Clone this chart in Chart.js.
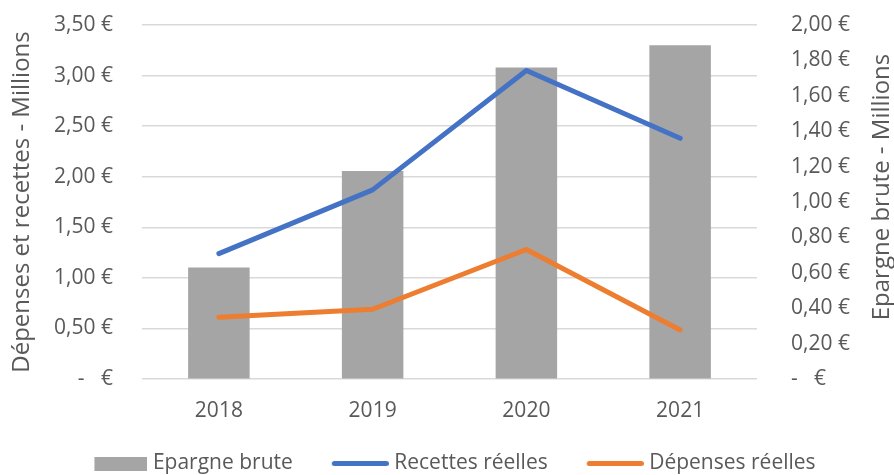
<!DOCTYPE html>
<html>
<head>
<meta charset="utf-8">
<script src="https://cdn.jsdelivr.net/npm/chart.js@4/dist/chart.umd.min.js"></script>
<style>
  html, body { margin: 0; padding: 0; background: #ffffff; }
  #wrap { width: 894px; height: 475px; position: relative; }
</style>
</head>
<body>
<div id="wrap"><canvas id="c" width="894" height="475"></canvas></div>
<script>
// ---- Data ----
const years = ['2018', '2019', '2020', '2021'];
const epargneBrute = [0.63, 1.175, 1.76, 1.885];      // right axis (millions €)
const recettesReelles = [1.24, 1.87, 3.05, 2.38];     // left axis (millions €)
const depensesReelles = [0.61, 0.69, 1.28, 0.485];    // left axis (millions €)
const seriesNames = ['Epargne brute', 'Recettes réelles', 'Dépenses réelles'];
const leftTitle = 'Dépenses et recettes - Millions';
const rightTitle = 'Epargne brute - Millions';

const GREY = '#A5A5A5', BLUE = '#4472C4', ORANGE = '#ED7D31';
const TEXT = '#595959', GRID = '#D9D9D9';
const NB = '\u00A0';
const FONT = '"Open Sans", "Noto Sans", sans-serif';

function euro(v) {
  if (Math.abs(v) < 1e-9) return '-' + NB + NB + NB + '€';
  return v.toFixed(2).replace('.', ',') + NB + '€';
}

// legend swatch: transparent on the left, coloured part at the right end
function makeSwatch(totalW, w, h, color, rounded) {
  const cv = document.createElement('canvas');
  cv.width = totalW; cv.height = h;
  const g = cv.getContext('2d');
  g.fillStyle = color;
  const x0 = totalW - w;
  if (rounded) {
    const r = h / 2;
    g.beginPath();
    g.moveTo(x0 + r, 0); g.lineTo(x0 + w - r, 0);
    g.arc(x0 + w - r, r, r, -Math.PI / 2, Math.PI / 2);
    g.lineTo(x0 + r, h);
    g.arc(x0 + r, r, r, Math.PI / 2, 3 * Math.PI / 2);
    g.closePath(); g.fill();
  } else {
    g.fillRect(x0, 0, w, h);
  }
  return cv;
}
const swatches = [
  makeSwatch(74, 53, 14, GREY, false),
  makeSwatch(74, 57, 5, BLUE, true),
  makeSwatch(74, 57, 5, ORANGE, true)
];

const rightTitlePlugin = {
  id: 'rightTitle',
  afterDraw(chart) {
    const ctx = chart.ctx, a = chart.chartArea;
    ctx.save();
    ctx.translate(chart.scales.y1.right - 12, (a.top + a.bottom) / 2 - 15);
    ctx.rotate(-Math.PI / 2);
    ctx.font = '24px ' + FONT;
    ctx.fillStyle = TEXT;
    ctx.textAlign = 'center';
    ctx.textBaseline = 'middle';
    ctx.fillText(rightTitle, 0, 0);
    ctx.restore();
  }
};

Chart.defaults.font.family = FONT;
Chart.defaults.color = TEXT;

new Chart(document.getElementById('c'), {
  data: {
    labels: years,
    datasets: [
      { type: 'bar', label: seriesNames[0], data: epargneBrute, yAxisID: 'y1',
        backgroundColor: GREY, barPercentage: 0.4, categoryPercentage: 1.0, order: 3 },
      { type: 'line', label: seriesNames[1], data: recettesReelles, yAxisID: 'y',
        borderColor: BLUE, backgroundColor: BLUE, borderWidth: 5, pointRadius: 0,
        borderCapStyle: 'round', borderJoinStyle: 'round', tension: 0, order: 1 },
      { type: 'line', label: seriesNames[2], data: depensesReelles, yAxisID: 'y',
        borderColor: ORANGE, backgroundColor: ORANGE, borderWidth: 5, pointRadius: 0,
        borderCapStyle: 'round', borderJoinStyle: 'round', tension: 0, order: 2 }
    ]
  },
  plugins: [rightTitlePlugin],
  options: {
    responsive: false,
    animation: false,
    layout: { padding: { top: 25, left: 0, right: 0, bottom: -9 } },
    plugins: {
      tooltip: { enabled: false },
      legend: {
        position: 'bottom',
        labels: {
          usePointStyle: true,
          pointStyleWidth: 64,
          padding: 27,
          color: TEXT,
          font: { size: 21 },
          sort: (a, b) => a.datasetIndex - b.datasetIndex,
          generateLabels: (chart) => chart.data.datasets.map((ds, i) => ({
            text: ds.label, pointStyle: swatches[i], datasetIndex: i,
            fillStyle: 'rgba(0,0,0,0)', strokeStyle: 'rgba(0,0,0,0)', lineWidth: 0,
            hidden: false, fontColor: TEXT
          }))
        }
      }
    },
    scales: {
      x: {
        grid: { display: false, drawTicks: false },
        border: { display: false },
        ticks: { font: { size: 21 }, color: TEXT, padding: 19, maxRotation: 0 },
        afterFit: (s) => { s.height = 47; }
      },
      y: {
        position: 'left', min: 0, max: 3.5,
        grid: { color: GRID, lineWidth: 1.5, drawTicks: true, tickLength: 29, tickColor: 'rgba(0,0,0,0)' },
        border: { display: false },
        ticks: { stepSize: 0.5, font: { size: 21 }, color: TEXT, padding: 0, callback: (v) => euro(v) },
        title: { display: true, text: leftTitle, color: TEXT, font: { size: 24, lineHeight: 1 }, padding: { top: 10, bottom: 0 } },
        afterFit: (s) => { s.width = 142; }
      },
      y1: {
        position: 'right', min: 0, max: 2,
        grid: { display: true, drawOnChartArea: false, drawTicks: true, tickLength: 34, tickColor: 'rgba(0,0,0,0)' },
        border: { display: false },
        ticks: { stepSize: 0.2, font: { size: 21 }, color: TEXT, padding: 0, callback: (v) => euro(v) },
        title: { display: false },
        afterFit: (s) => { s.width = 137; }
      }
    }
  }
});
</script>
</body>
</html>
